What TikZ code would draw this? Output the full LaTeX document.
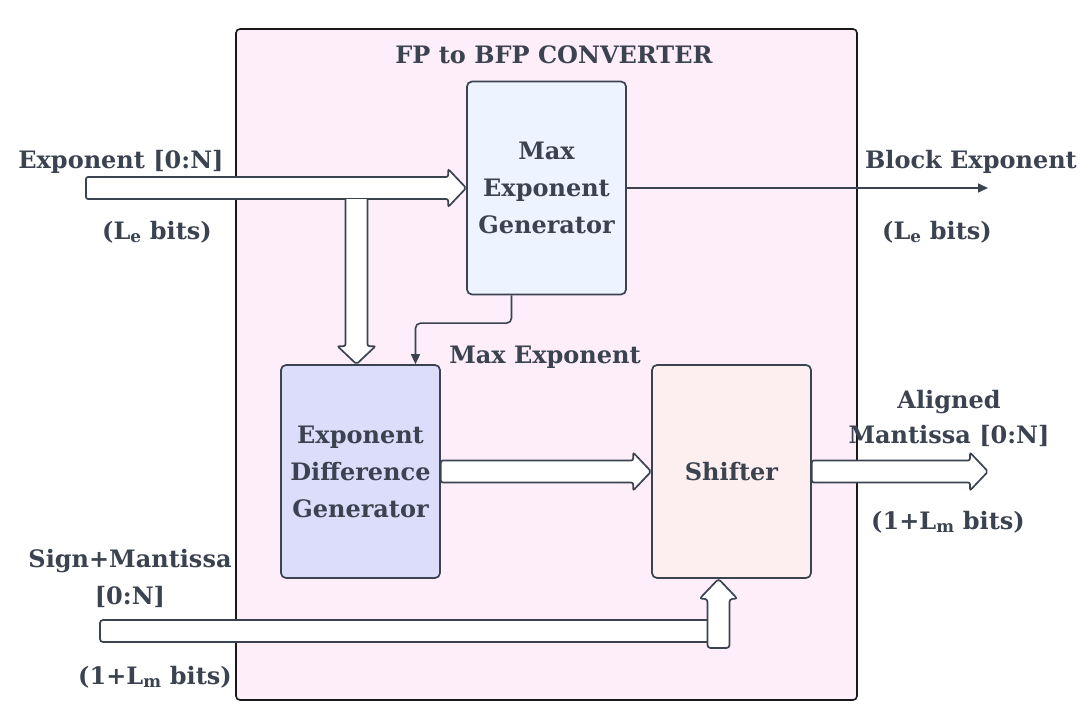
\documentclass[tikz,border=0pt]{standalone}
\usepackage{fontspec}
\setmainfont{DejaVu Serif}
\usetikzlibrary{arrows.meta,calc}
\definecolor{ink}{HTML}{3B4351}
\definecolor{pinkbg}{HTML}{FDEEF9}
\definecolor{megfill}{HTML}{EDF4FF}
\definecolor{edgfill}{HTML}{DCDCFB}
\definecolor{shfill}{HTML}{FDEFEF}
\tikzset{
  container/.style={draw=black!90, fill=pinkbg, line width=1.6pt, rounded corners=4pt},
  block/.style={draw=ink, line width=1.7pt, rounded corners=5pt, minimum width=159pt, minimum height=213pt, align=center, text=ink, font=\fontsize{24}{37}\selectfont\bfseries, inner sep=0pt},
  lbl/.style={text=ink, font=\fontsize{24}{36}\selectfont\bfseries, align=center, inner sep=0pt},
  fat/.style={draw=ink, fill=white, line width=1.7pt, rounded corners=2pt},
  thin/.style={draw=ink, line width=1.6pt, -{Triangle[length=10pt,width=9pt]}},
}
\begin{document}
\begin{tikzpicture}[x=1pt,y=-1pt]
\useasboundingbox (0,0) rectangle (1090,723);
\node[container, minimum width=621pt, minimum height=671pt, inner sep=0pt] (conv) at (546.5,364.5) {};
\node[lbl] (title) at (554,55) {FP to BFP CONVERTER};
\node[block, fill=megfill] (meg) at (546.5,188) {Max\\Exponent\\Generator};
\node[block, fill=edgfill] (edg) at (360.5,471.5) {Exponent\\Difference\\Generator};
\node[block, fill=shfill] (sh) at (731.5,471.5) {Shifter};
% free ends
\coordinate (expin) at (86,188);
\coordinate (bexp) at (988,188);
\coordinate (amout) at (988,471.5);
\coordinate (smin) at (100,631);
% exponent input fat arrow
\draw[fat] ($(expin)+(0,-11)$) -- ($(meg.west)+(-18,-11)$) -- ($(meg.west)+(-18,-19)$) -- (meg.west) -- ($(meg.west)+(-18,19)$) -- ($(meg.west)+(-18,11)$) -- ($(expin)+(0,11)$) -- cycle;
% branch down
\coordinate (j1) at ($(edg.north |- expin)+(-4,11)$);
\coordinate (t1) at ($(edg.north)+(-4,0)$);
\draw[fat] ($(j1)+(-11,0)$) -- ($(t1)+(-11,-18)$) -- ($(t1)+(-19,-18)$) -- (t1) -- ($(t1)+(19,-18)$) -- ($(t1)+(11,-18)$) -- ($(j1)+(11,0)$);
% edg -> shifter
\draw[fat] ($(edg.east)+(0,-11)$) -- ($(sh.west)+(-18,-11)$) -- ($(sh.west)+(-18,-19)$) -- (sh.west) -- ($(sh.west)+(-18,19)$) -- ($(sh.west)+(-18,11)$) -- ($(edg.east)+(0,11)$) -- cycle;
% shifter -> out
\draw[fat] ($(sh.east)+(0,-11)$) -- ($(amout)+(-18,-11)$) -- ($(amout)+(-18,-19)$) -- (amout) -- ($(amout)+(-18,19)$) -- ($(amout)+(-18,11)$) -- ($(sh.east)+(0,11)$) -- cycle;
% sign+mantissa L arrow
\coordinate (t2) at ($(sh.south)+(-13,0)$);
\draw[fat, rounded corners=3pt] ($(smin)+(0,-11)$) -- ($(t2 |- smin)+(0,-11)$) -- ($(t2 |- smin)+(0,11)$) -- ($(smin)+(0,11)$) -- cycle;
\draw[fat, rounded corners=3pt] ($(t2 |- smin)+(-11,17)$) -- ($(t2)+(-11,20)$) -- ($(t2)+(-19,20)$) -- (t2) -- ($(t2)+(19,20)$) -- ($(t2)+(11,20)$) -- ($(t2 |- smin)+(11,17)$) -- cycle;
% thin arrows
\draw[thin] (meg.east) -- (bexp);
\draw[thin, rounded corners=5pt] ($(meg.south)+(-35,0)$) |- ($(edg.north)+(55,-41)$) -- ($(edg.north)+(55,0)$);
% labels
\node[lbl] (l1) at (121,162) {Exponent [0:N]};
\node[lbl] (l2) at (157,232) {(L\textsubscript{e} bits)};
\node[lbl] (l3) at (971,162) {Block Exponent};
\node[lbl] (l4) at (937,232) {(L\textsubscript{e} bits)};
\node[lbl] (l5) at (545,357) {Max Exponent};
\node[lbl, font=\fontsize{24}{35}\selectfont\bfseries] (l6) at (949,418) {Aligned\\Mantissa [0:N]};
\node[lbl] (l7) at (948,522) {(1+L\textsubscript{m} bits)};
\node[lbl, font=\fontsize{24}{37}\selectfont\bfseries] (l8) at (130,578) {Sign+Mantissa\\{}[0:N]};
\node[lbl] (l9) at (155,677) {(1+L\textsubscript{m} bits)};
\end{tikzpicture}
\end{document}
